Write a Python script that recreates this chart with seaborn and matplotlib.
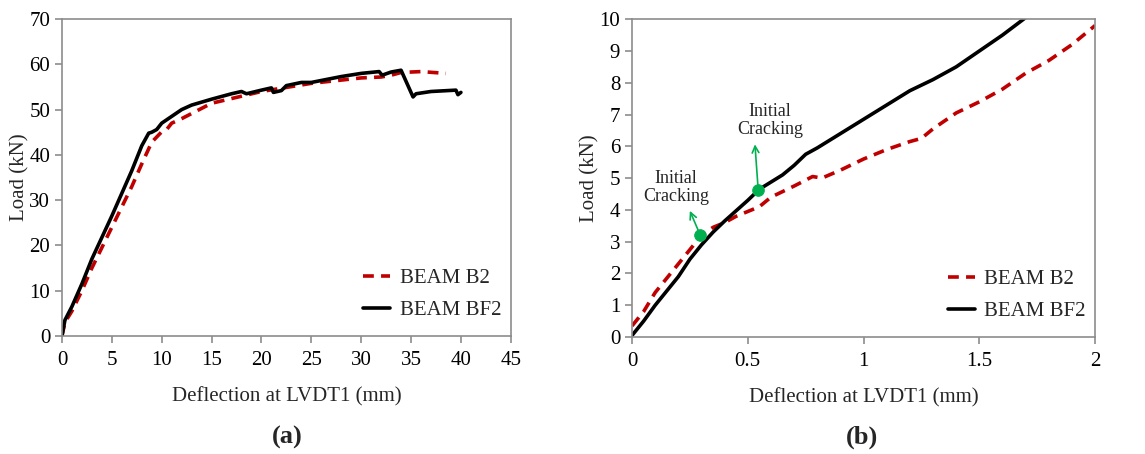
import pandas as pd
import matplotlib
matplotlib.use("Agg")
import matplotlib.pyplot as plt
import seaborn as sns

# ---------------- data ----------------
# (a) full load-deflection curves
B2_FULL_X = [0, 0.3, 1, 2, 3, 5, 7, 8, 9, 10, 10.5, 11, 12, 15, 20, 25, 30, 32, 33, 34, 36, 38.5]
B2_FULL_Y = [0, 3, 5.5, 10, 15, 24, 33, 38, 42.8, 45.1, 45.6, 47, 48, 51.4, 54, 55.8, 57, 57.2, 57.6, 58.2, 58.4, 58]

BF2_FULL_X = [0, 0.3, 1, 2, 3, 5, 7, 8, 8.7, 9, 9.5, 10, 11, 12, 13, 15, 17, 18, 18.5, 20, 21,
              21.2, 22, 22.5, 24, 25, 28, 30, 31.8, 32.1, 33, 34, 35.2, 35.5, 37, 39.5, 39.7, 40]
BF2_FULL_Y = [0, 3.5, 6.5, 11.5, 17, 26.5, 36.5, 42, 44.8, 45, 45.6, 47, 48.5, 50, 51, 52.3, 53.5, 54, 53.5, 54.3, 54.8,
              53.8, 54.2, 55.3, 56, 56, 57.3, 58, 58.4, 57.6, 58.3, 58.7, 52.8, 53.5, 54, 54.3, 53.3, 53.8]

# (b) zoom on the first 2 mm
B2_ZOOM_X = [0, 0.05, 0.1, 0.2, 0.3, 0.35, 0.4, 0.45, 0.5, 0.55, 0.6, 0.7, 0.78, 0.82, 0.9, 1.0,
             1.1, 1.2, 1.25, 1.3, 1.4, 1.5, 1.6, 1.7, 1.8, 1.9, 2.0]
B2_ZOOM_Y = [0.35, 0.8, 1.4, 2.3, 3.2, 3.45, 3.6, 3.8, 3.95, 4.1, 4.4, 4.75, 5.05, 5.0, 5.25, 5.6,
             5.9, 6.15, 6.25, 6.55, 7.05, 7.4, 7.8, 8.3, 8.7, 9.2, 9.8]

BF2_ZOOM_X = [0, 0.05, 0.1, 0.2, 0.25, 0.3, 0.35, 0.4, 0.5, 0.55, 0.65, 0.7, 0.75, 0.8, 0.9, 1.0,
              1.1, 1.2, 1.3, 1.4, 1.5, 1.6, 1.7]
BF2_ZOOM_Y = [0.05, 0.5, 1.0, 1.9, 2.45, 2.9, 3.3, 3.65, 4.3, 4.65, 5.1, 5.4, 5.75, 5.95, 6.4, 6.85,
              7.3, 7.75, 8.1, 8.5, 9.0, 9.5, 10.05]

CRACK_X = [0.295, 0.545]
CRACK_Y = [3.2, 4.62]
CRACK_LABEL = "Initial\nCracking"
LABELS = ["BEAM B2", "BEAM BF2"]
XLABEL = "Deflection at LVDT1 (mm)"
YLABEL = "Load (kN)"

# ---------------- style ----------------
RED = "#C00000"
GREEN = "#00B050"
SPINE = "#8c8c8c"
FS = 15

sns.set_theme(style="ticks")
plt.rcParams["font.family"] = ["Liberation Serif", "DejaVu Serif"]

fig = plt.figure(figsize=(11.45, 4.54), dpi=100)
ax_a = fig.add_axes([0.0541, 0.26, 0.392, 0.698])
ax_b = fig.add_axes([0.552, 0.2577, 0.4044, 0.70])


def draw(ax, bx, by, fx, fy):
    b2 = pd.DataFrame({"x": bx, "y": by})
    bf2 = pd.DataFrame({"x": fx, "y": fy})
    sns.lineplot(data=b2, x="x", y="y", ax=ax, color=RED, lw=2.6, linestyle=(0, (3, 2)),
                 sort=False, label=LABELS[0])
    sns.lineplot(data=bf2, x="x", y="y", ax=ax, color="black", lw=2.6,
                 sort=False, label=LABELS[1])
    for s in ax.spines.values():
        s.set_color(SPINE)
        s.set_linewidth(1.2)
    ax.tick_params(colors=SPINE, labelcolor="black", labelsize=FS, length=5, width=1.2)
    ax.tick_params(axis="x", pad=6)
    ax.set_xlabel(XLABEL, fontsize=FS, labelpad=12)
    ax.set_ylabel(YLABEL, fontsize=FS, labelpad=0)


def add_legend(ax):
    ax.legend(loc="lower right", bbox_to_anchor=(1.02, -0.01), frameon=False, fontsize=FS,
              handlelength=1.3, handletextpad=0.45, labelspacing=0.6)


draw(ax_a, B2_FULL_X, B2_FULL_Y, BF2_FULL_X, BF2_FULL_Y)
ax_a.set_xlim(0, 45)
ax_a.set_ylim(0, 70)
ax_a.set_xticks(range(0, 46, 5))
ax_a.set_yticks(range(0, 71, 10))
add_legend(ax_a)

draw(ax_b, B2_ZOOM_X, B2_ZOOM_Y, BF2_ZOOM_X, BF2_ZOOM_Y)
ax_b.set_xlim(0, 2)
ax_b.set_ylim(0, 10)
ax_b.set_xticks([0, 0.5, 1, 1.5, 2])
ax_b.set_xticklabels(["0", "0.5", "1", "1.5", "2"])
ax_b.set_yticks(range(0, 11))

# initial cracking markers + arrows
sns.scatterplot(x=CRACK_X, y=CRACK_Y, ax=ax_b, color=GREEN, s=70, edgecolor=GREEN,
                zorder=5, legend=False)
ax_b.annotate("", xy=(0.245, 4.05), xytext=(CRACK_X[0], CRACK_Y[0]),
              arrowprops=dict(arrowstyle="->", color=GREEN, lw=1.2))
ax_b.annotate("", xy=(0.53, 6.15), xytext=(CRACK_X[1], CRACK_Y[1]),
              arrowprops=dict(arrowstyle="->", color=GREEN, lw=1.2))
ax_b.text(0.19, 4.7, CRACK_LABEL, ha="center", va="center", fontsize=13, linespacing=1.1)
ax_b.text(0.597, 6.82, CRACK_LABEL, ha="center", va="center", fontsize=13, linespacing=1.1)
add_legend(ax_b)

fig.text(0.251, 0.037, "(a)", ha="center", va="center", fontsize=19, fontweight="bold")
fig.text(0.753, 0.037, "(b)", ha="center", va="center", fontsize=19, fontweight="bold")

fig.savefig("out.png", dpi=100)
plt.close(fig)
